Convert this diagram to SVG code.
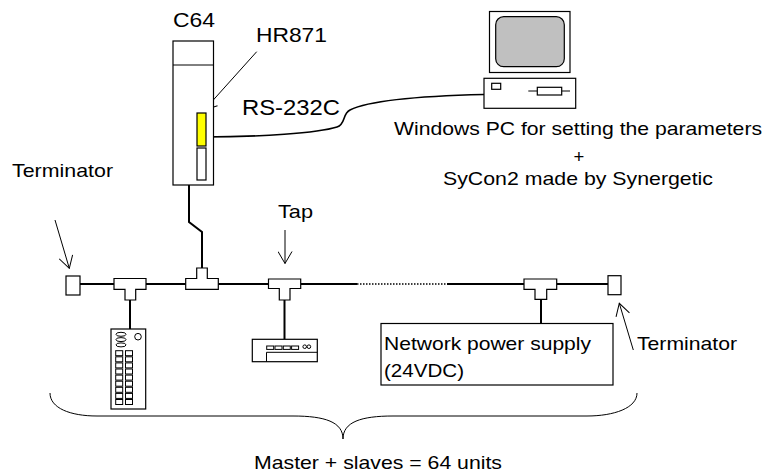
<svg xmlns="http://www.w3.org/2000/svg" width="767" height="473" viewBox="0 0 767 473">
  <defs>
    <style>
      text { font-family: "Liberation Sans", Arial, sans-serif; fill: #000; }
      .lbl { font-size: 18.5px; }
      .box { fill: #fff; stroke: #000; stroke-width: 1.2; }
      .thin { fill: none; stroke: #000; stroke-width: 1; }
      .cable { fill: none; stroke: #000; stroke-width: 2; }
      .arrow { fill: none; stroke: #000; stroke-width: 1; marker-end: url(#vhead); }
    </style>
    <marker id="vhead" viewBox="0 0 14 15" refX="13" refY="7.5" markerWidth="14" markerHeight="15" markerUnits="userSpaceOnUse" orient="auto">
      <path d="M1,0.5 L13,7.5 L1,14.5" fill="none" stroke="#000" stroke-width="1"/>
    </marker>
  </defs>
  <rect width="767" height="473" fill="#fff"/>

  <!-- connectors: bus, drop cables, serial cable, pointer arrows -->
  <g id="connectors">
    <!-- trunk line -->
    <line class="cable" x1="80" y1="284" x2="114" y2="284"/>
    <line class="cable" x1="146" y1="284" x2="186" y2="284"/>
    <line class="cable" x1="218" y1="284" x2="269" y2="284"/>
    <line class="cable" x1="301" y1="284" x2="357" y2="284"/>
    <line fill="none" stroke="#000" stroke-width="1.5" stroke-dasharray="1.5 1.5" x1="357" y1="284" x2="447" y2="284"/>
    <line class="cable" x1="447" y1="284" x2="524" y2="284"/>
    <line class="cable" x1="557" y1="284" x2="608" y2="284"/>
    <!-- drop lines -->
    <line class="cable" x1="130" y1="300" x2="130" y2="329"/>
    <line class="cable" x1="284.5" y1="300" x2="284.5" y2="339"/>
    <line class="cable" x1="541" y1="299" x2="541" y2="323.5"/>
    <!-- master drop from the HR871 -->
    <polyline class="cable" points="202.5,123.5 189,131 189,222 202,232 202,268"/>
    <!-- RS-232C cable to the PC -->
    <path fill="none" stroke="#000" stroke-width="1.6" d="M203,137 C260,137 318,133 337,127 C346,124 342,114 350,110 C370,100 420,96 484,94.5"/>
    <!-- pointer arrows -->
    <line class="arrow" x1="256.7" y1="51.7" x2="204.3" y2="110"/>
    <line class="arrow" x1="55" y1="220" x2="69.3" y2="268.3"/>
    <line class="arrow" x1="285" y1="230" x2="285" y2="263.5"/>
    <line class="arrow" x1="633.3" y1="350" x2="619.3" y2="303.3"/>
  </g>

  <!-- C64 controller with the HR871 card -->
  <g id="c64">
    <rect class="box" x="173" y="41" width="40.5" height="144"/>
    <line class="thin" x1="173" y1="65" x2="213.5" y2="65"/>
    <rect id="hr871" x="197" y="113" width="9" height="33" fill="#ffff00" stroke="#000" stroke-width="1.2"/>
    <rect class="box" x="197" y="148" width="9" height="32"/>
  </g>

  <!-- setup PC -->
  <g id="pc">
    <rect class="box" x="489.5" y="11.5" width="80.5" height="61"/>
    <rect x="495.7" y="16.7" width="68.6" height="50" rx="8" ry="8" fill="#c0c0c0" stroke="#000" stroke-width="1.2"/>
    <rect class="box" x="484" y="78.3" width="91.7" height="30"/>
    <rect class="box" x="491.7" y="83.3" width="9" height="6"/>
    <line class="thin" x1="528.3" y1="91" x2="570" y2="91"/>
    <rect class="box" x="537.3" y="87.3" width="24.4" height="7.7"/>
  </g>

  <!-- terminators -->
  <g id="terminator-left">
    <rect class="box" x="66" y="276" width="14" height="19"/>
  </g>
  <g id="terminator-right">
    <rect class="box" x="608" y="275.7" width="13" height="19"/>
  </g>

  <!-- T-branch taps -->
  <g id="tee-1">
    <polygon class="box" points="114,278.5 146,278.5 146,289.3 135.7,289.3 135.7,300 125,300 125,289.3 114,289.3"/>
  </g>
  <g id="tee-master">
    <polygon class="box" points="196.7,268 207.3,268 207.3,278.5 218.3,278.5 218.3,289.3 185.7,289.3 185.7,278.5 196.7,278.5"/>
  </g>
  <g id="tee-tap">
    <polygon class="box" points="268.5,279 300.7,279 300.7,288.5 290,288.5 290,300 279.3,300 279.3,288.5 268.5,288.5"/>
  </g>
  <g id="tee-power">
    <polygon class="box" points="524,279 556.7,279 556.7,289.3 546.7,289.3 546.7,299.3 535,299.3 535,289.3 524,289.3"/>
  </g>

  <!-- slave: I/O terminal -->
  <g id="slave-io">
    <rect class="box" x="111" y="329" width="34.7" height="80"/>
    <ellipse class="thin" cx="121" cy="334.3" rx="5" ry="2"/>
    <ellipse class="thin" cx="121" cy="339.6" rx="5" ry="2"/>
    <ellipse class="thin" cx="121" cy="344.9" rx="5" ry="2"/>
    <circle class="thin" cx="138" cy="336.7" r="3.3"/>
    <g class="thin">
      <rect x="115.7" y="350.7" width="7" height="5"/><rect x="125.5" y="350.7" width="7" height="5"/>
      <rect x="115.7" y="356.8" width="7" height="5"/><rect x="125.5" y="356.8" width="7" height="5"/>
      <rect x="115.7" y="362.9" width="7" height="5"/><rect x="125.5" y="362.9" width="7" height="5"/>
      <rect x="115.7" y="369" width="7" height="5"/><rect x="125.5" y="369" width="7" height="5"/>
      <rect x="115.7" y="375.1" width="7" height="5"/><rect x="125.5" y="375.1" width="7" height="5"/>
      <rect x="115.7" y="381.2" width="7" height="5"/><rect x="125.5" y="381.2" width="7" height="5"/>
      <rect x="115.7" y="387.3" width="7" height="5"/><rect x="125.5" y="387.3" width="7" height="5"/>
      <rect x="115.7" y="393.4" width="7" height="5"/><rect x="125.5" y="393.4" width="7" height="5"/>
      <rect x="115.7" y="399.5" width="7" height="5"/><rect x="125.5" y="399.5" width="7" height="5"/>
    </g>
  </g>

  <!-- slave: flat unit -->
  <g id="slave-flat">
    <rect class="box" x="252.3" y="339.3" width="65" height="22.4"/>
    <polyline class="thin" points="266.5,361.7 266.5,352.3 317.3,352.3"/>
    <g class="thin">
      <rect x="266.7" y="346" width="7" height="3.4"/>
      <rect x="275" y="346" width="7" height="3.4"/>
      <rect x="283.3" y="346" width="7" height="3.4"/>
      <rect x="291.6" y="346" width="7" height="3.4"/>
      <circle cx="304.7" cy="346.7" r="1.8"/>
      <circle cx="308.9" cy="346.7" r="1.8"/>
    </g>
  </g>

  <!-- network power supply -->
  <g id="power-supply">
    <rect class="box" x="381" y="323.5" width="232" height="61.5"/>
    <text class="lbl" x="384" y="350" textLength="207" lengthAdjust="spacingAndGlyphs">Network power supply</text>
    <text class="lbl" x="384" y="377" textLength="80" lengthAdjust="spacingAndGlyphs">(24VDC)</text>
  </g>

  <!-- labels -->
  <g id="labels">
    <text x="173" y="27" font-size="20.5" textLength="42" lengthAdjust="spacingAndGlyphs">C64</text>
    <text x="256" y="42" font-size="21" textLength="71" lengthAdjust="spacingAndGlyphs">HR871</text>
    <text x="242" y="115" font-size="22" textLength="98" lengthAdjust="spacingAndGlyphs">RS-232C</text>
    <text class="lbl" x="578" y="135" text-anchor="middle" textLength="368" lengthAdjust="spacingAndGlyphs">Windows PC for setting the parameters</text>
    <text class="lbl" x="579" y="162.5" text-anchor="middle">+</text>
    <text class="lbl" x="578" y="185" text-anchor="middle" textLength="270" lengthAdjust="spacingAndGlyphs">SyCon2 made by Synergetic</text>
    <text class="lbl" x="12" y="177" textLength="101" lengthAdjust="spacingAndGlyphs">Terminator</text>
    <text class="lbl" x="278" y="218" textLength="35" lengthAdjust="spacingAndGlyphs">Tap</text>
    <text class="lbl" x="637" y="350" textLength="100" lengthAdjust="spacingAndGlyphs">Terminator</text>
    <text class="lbl" x="254" y="469" textLength="248" lengthAdjust="spacingAndGlyphs">Master + slaves = 64 units</text>
  </g>

  <!-- brace spanning all units -->
  <g id="brace">
    <path class="thin" d="M50,393 C50,408 70,416 97,416 L293,416 C325,416 343,422 343,439 C343,422 361,416 393,416 L587,416 C614,416 637,408 637,393"/>
  </g>
</svg>
